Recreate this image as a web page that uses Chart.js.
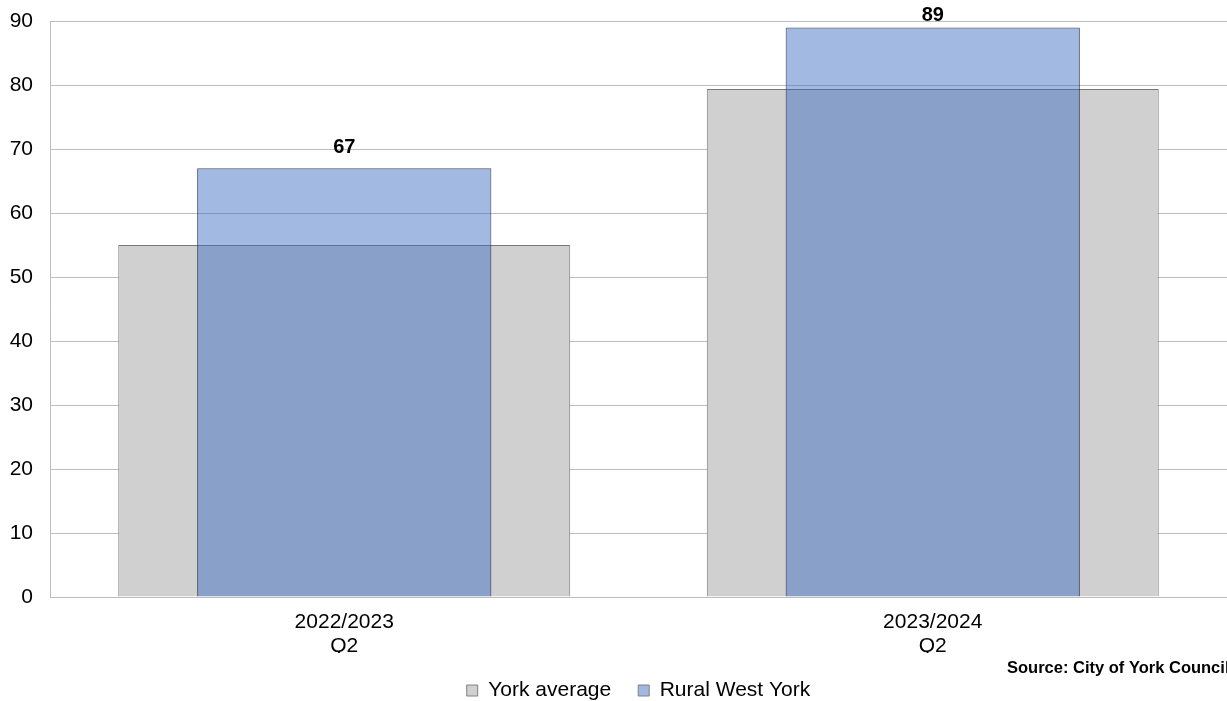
<!DOCTYPE html>
<html><head><meta charset="utf-8">
<script src="https://cdn.jsdelivr.net/npm/chart.js@4"></script>
<style>html,body{margin:0;padding:0;background:#fff}#wrap{width:1227px;height:701px}</style>
</head><body><div id="wrap"><canvas id="c" width="1227" height="701"></canvas></div>
<script>
const categories = [["2022/2023","Q2"],["2023/2024","Q2"]];
const yorkAverage = [55, 79.4];
const ruralWestYork = [67, 89];
const seriesNames = ["York average", "Rural West York"];
const sourceText = "Source: City of York Council";

const FONT = "'Liberation Sans', Arial, sans-serif";

const labelPlugin = {
  id: 'labels',
  afterDatasetsDraw(chart) {
    const ctx = chart.ctx;
    const meta = chart.getDatasetMeta(1);
    ctx.save();
    ctx.font = "bold 20px " + FONT;
    ctx.fillStyle = '#000';
    ctx.textAlign = 'center';
    ctx.textBaseline = 'middle';
    meta.data.forEach((el, i) => {
      ctx.fillText(String(ruralWestYork[i]), el.x, Math.max(el.y - 21, 15));
    });
    ctx.font = "bold 16.5px " + FONT;
    ctx.textAlign = 'left';
    ctx.fillText(sourceText, 1007, 668);
    ctx.restore();
  }
};

new Chart(document.getElementById('c'), {
  type: 'bar',
  data: {
    labels: categories,
    datasets: [
      {
        label: seriesNames[0],
        data: yorkAverage,
        backgroundColor: 'rgb(208,208,208)',
        borderColor: 'rgb(120,120,120)',
        borderWidth: 1,
        barPercentage: 0.768,
        categoryPercentage: 1,
        grouped: false,
        order: 1
      },
      {
        label: seriesNames[1],
        data: ruralWestYork,
        backgroundColor: 'rgba(58,106,192,0.47)',
        borderColor: 'rgba(30,40,70,0.8)',
        borderWidth: 1,
        barPercentage: 0.5,
        categoryPercentage: 1,
        grouped: false,
        order: 0
      }
    ]
  },
  options: {
    responsive: false,
    animation: false,
    devicePixelRatio: 1,
    layout: { padding: { top: 5, right: 0, left: 0, bottom: 0 } },
    plugins: {
      tooltip: { enabled: false },
      legend: {
        position: 'bottom',
        fullSize: false,
        maxHeight: 48,
        labels: {
          font: { family: FONT, size: 21 },
          color: '#000',
          boxWidth: 11,
          boxHeight: 11,
          padding: 27,
          generateLabels(chart) {
            return chart.data.datasets.map((ds, i) => ({
              text: ds.label,
              fillStyle: i === 0 ? 'rgb(208,208,208)' : 'rgb(160,184,226)',
              strokeStyle: 'rgb(128,128,128)',
              lineWidth: 1,
              datasetIndex: i,
              hidden: false
            }));
          }
        }
      }
    },
    scales: {
      x: {
        grid: { display: false, drawTicks: false },
        border: { display: true, color: 'rgb(190,190,190)', width: 1 },
        ticks: { font: { family: FONT, size: 21, lineHeight: 1.15 }, color: '#000', padding: 13, maxRotation: 0 },
        afterFit(s) { s.height = 56; }
      },
      y: {
        min: 0, max: 90,
        grid: { color: 'rgb(190,190,190)', drawTicks: false, lineWidth: 1 },
        border: { display: true, color: 'rgb(190,190,190)', width: 1 },
        ticks: { stepSize: 10, font: { family: FONT, size: 21, lineHeight: 0.4 }, color: '#000', padding: 17 },
        afterFit(s) { s.width = 50; }
      }
    }
  },
  plugins: [labelPlugin]
});
</script>
</body></html>
